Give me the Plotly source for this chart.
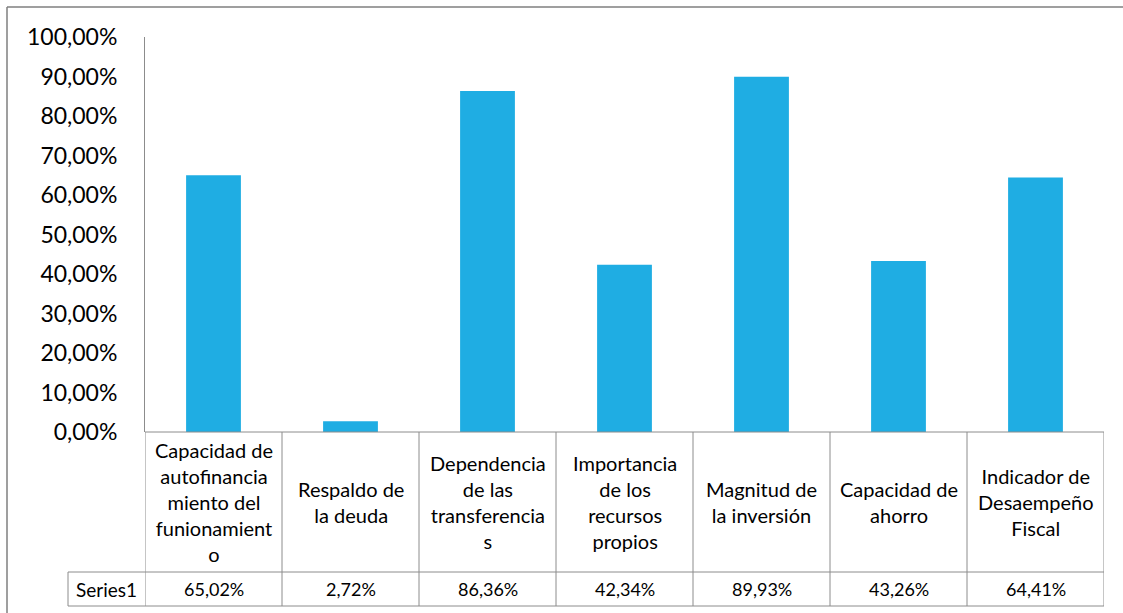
import plotly.graph_objects as go

categories = [
    "Capacidad de<br>autofinancia<br>miento del<br>funionamient<br>o",
    "Respaldo de<br>la deuda",
    "Dependencia<br>de las<br>transferencia<br>s",
    "Importancia<br>de los<br>recursos<br>propios",
    "Magnitud de<br>la inversión",
    "Capacidad de<br>ahorro",
    "Indicador de<br>Desaempeño<br>Fiscal",
]
series_name = "Series1"
values = [65.02, 2.72, 86.36, 42.34, 89.93, 43.26, 64.41]
y_ticks = [0, 10, 20, 30, 40, 50, 60, 70, 80, 90, 100]

W, H = 1123, 613
FONT = "Lato"
BAR = "#1FADE3"
LINE = "#8C8C8C"
CAT_TXT = 20
VAL_TXT = 18

def px_x(p):
    return p / W

def px_y(p):
    return 1 - p / H

x_idx = list(range(len(values)))
x_dom = [px_x(145), px_x(1104)]
y_dom = [px_y(432), px_y(37)]

fig = go.Figure()
fig.add_trace(go.Bar(
    x=x_idx, y=values, width=0.4, marker=dict(color=BAR, line=dict(width=0)),
    name=series_name, showlegend=False, hoverinfo="y",
))

ticktext = [f"{v:.2f}".replace(".", ",") + "%" for v in y_ticks]

fig.update_layout(
    template="none",
    width=W, height=H, autosize=False,
    margin=dict(l=0, r=0, t=0, b=0, pad=0),
    paper_bgcolor="white", plot_bgcolor="white",
    font=dict(family=FONT, color="#000000"),
    xaxis=dict(domain=x_dom, range=[-0.5, len(values) - 0.5], showticklabels=False,
               showgrid=False, zeroline=False, showline=False, fixedrange=True,
               automargin=False, ticks=""),
    yaxis=dict(domain=y_dom, range=[0, 100], tickvals=y_ticks, ticktext=ticktext,
               tickfont=dict(size=23, family=FONT, color="#000000"),
               showgrid=False, zeroline=False, showline=True, linecolor=LINE, linewidth=1,
               ticks="", ticklabelstandoff=22, automargin=False),
    bargap=0.6,
)

shapes = []
y_top_tab = px_y(432)
y_mid_tab = px_y(572)
y_bot_tab = px_y(606)
shapes.append(dict(type="line", xref="paper", yref="paper", x0=x_dom[0], x1=x_dom[1],
                   y0=y_top_tab, y1=y_top_tab, line=dict(color=LINE, width=1)))
for yy in (y_mid_tab, y_bot_tab):
    shapes.append(dict(type="line", xref="paper", yref="paper", x0=px_x(68), x1=x_dom[1],
                       y0=yy, y1=yy, line=dict(color=LINE, width=1)))
for i in range(len(values) + 1):
    shapes.append(dict(type="line", xref="x", yref="paper", x0=i - 0.5, x1=i - 0.5,
                       y0=y_bot_tab, y1=y_top_tab, line=dict(color=LINE, width=1)))
shapes.append(dict(type="line", xref="paper", yref="paper", x0=px_x(68), x1=px_x(68),
                   y0=y_bot_tab, y1=y_mid_tab, line=dict(color=LINE, width=1)))
shapes.append(dict(type="line", xref="paper", yref="paper", x0=px_x(7), x1=px_x(7),
                   y0=0, y1=px_y(7), line=dict(color="#7F7F7F", width=1.5)))
shapes.append(dict(type="line", xref="paper", yref="paper", x0=px_x(7), x1=1,
                   y0=px_y(7), y1=px_y(7), line=dict(color="#7F7F7F", width=1.5)))
fig.update_layout(shapes=shapes)

annotations = []
for i, (c, v) in enumerate(zip(categories, values)):
    annotations.append(dict(x=i, y=px_y(502), xref="x", yref="paper", text=c,
                            showarrow=False, font=dict(size=CAT_TXT, family=FONT, color="#000000"),
                            align="center", xanchor="center", yanchor="middle"))
    annotations.append(dict(x=i, y=px_y(589), xref="x", yref="paper",
                            text=f"{v:.2f}".replace(".", ",") + "%",
                            showarrow=False, font=dict(size=VAL_TXT, family=FONT, color="#000000"),
                            xanchor="center", yanchor="middle"))
annotations.append(dict(x=px_x(106), y=px_y(589), xref="paper", yref="paper", text=series_name,
                        showarrow=False, font=dict(size=19, family=FONT, color="#000000"),
                        xanchor="center", yanchor="middle"))
fig.update_layout(annotations=annotations)

post = ("document.documentElement.style.margin='0';"
        "document.documentElement.style.padding='0';"
        "document.documentElement.style.overflow='hidden';"
        "document.body.style.margin='0';document.body.style.padding='0';"
        "document.body.style.overflow='hidden';")
fig.write_html("out.html", post_script=post, config={"displayModeBar": False})
